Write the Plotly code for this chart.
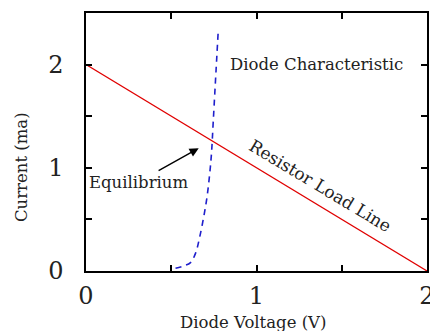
import plotly.graph_objects as go

# Resistor load line (V, mA)
load_v = [0.0, 2.0]
load_i = [2.0, 0.0]

# Diode characteristic (V, mA)
diode_v = [0.525, 0.573, 0.613, 0.642, 0.667, 0.691, 0.710, 0.726, 0.736, 0.747, 0.763, 0.775]
diode_i = [0.026, 0.049, 0.081, 0.17, 0.33, 0.53, 0.72, 0.95, 1.14, 1.47, 1.95, 2.31]

tick_vals = [0, 0.5, 1, 1.5, 2]
tick_text = ["0", "", "1", "", "2"]

FONT = "DejaVu Serif"
TXT = "#222"

fig = go.Figure()
fig.add_trace(go.Scatter(x=load_v, y=load_i, mode="lines",
                         line=dict(color="#e00000", width=1.2), showlegend=False))
fig.add_trace(go.Scatter(x=diode_v, y=diode_i, mode="lines",
                         line=dict(color="#1f1fcc", width=1.6, dash="6px,5px", shape="spline"),
                         showlegend=False))

axis_common = dict(showline=True, linecolor="black", linewidth=1.5, mirror="ticks",
                   ticks="inside", ticklen=6, tickwidth=1.5, tickcolor="black",
                   showgrid=False, zeroline=False, automargin=False,
                   ticklabeloverflow="allow",
                   tickvals=tick_vals, ticktext=tick_text,
                   tickfont=dict(family=FONT, size=24, color=TXT))

fig.update_xaxes(range=[0, 2], ticklabelstandoff=2, **axis_common)
fig.update_yaxes(range=[0, 2.5], ticklabelstandoff=16, **axis_common)

# axis titles
fig.add_annotation(x=0.49, y=0, xref="paper", yref="paper", yshift=-51,
                   text="Diode Voltage (V)", showarrow=False,
                   xanchor="center", yanchor="middle",
                   font=dict(family=FONT, size=16.5, color=TXT))
fig.add_annotation(x=0, y=0.403, xref="paper", yref="paper", xshift=-65,
                   text="Current (ma)", showarrow=False, textangle=-90,
                   xanchor="center", yanchor="middle",
                   font=dict(family=FONT, size=16.5, color=TXT))

fig.add_annotation(x=0.834, y=2.0, text="Diode Characteristic", showarrow=False,
                   xanchor="left", yanchor="middle",
                   font=dict(family=FONT, size=16.5, color=TXT))
fig.add_annotation(x=0.308, y=0.857, text="Equilibrium", showarrow=False,
                   xanchor="center", yanchor="middle",
                   font=dict(family=FONT, size=16.5, color=TXT))
fig.add_annotation(x=0.661, y=1.19, ax=0.417, ay=0.964, axref="x", ayref="y",
                   text="", showarrow=True, arrowhead=2, arrowsize=1.3,
                   arrowwidth=1.4, arrowcolor="black")
fig.add_annotation(x=1.375, y=0.82, text="Resistor Load Line", showarrow=False,
                   textangle=31, xanchor="center", yanchor="middle",
                   font=dict(family=FONT, size=17, color=TXT))

fig.update_layout(width=430, height=331, margin=dict(l=86, r=3, t=13, b=60),
                  plot_bgcolor="white", paper_bgcolor="white")

fig.write_html("out.html", config={"displayModeBar": False},
               post_script="document.body.style.margin='0';document.body.style.overflow='hidden';")
